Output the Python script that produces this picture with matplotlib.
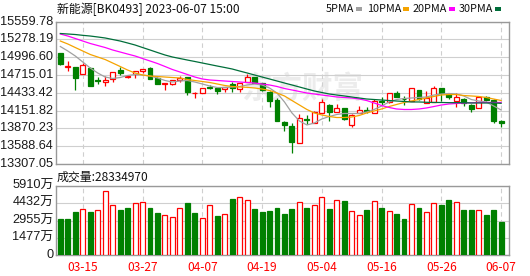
import matplotlib
matplotlib.use('Agg')
import numpy as np
import matplotlib.pyplot as plt
import matplotlib.transforms as mtransforms
from matplotlib.patches import Rectangle

# ---- data ----
date_labels = ['03-15', '03-27', '04-07', '04-19', '05-04', '05-16', '05-26', '06-07']
date_pos = [3, 11, 19, 27, 35, 43, 51, 59]

opens = [15064, 14842, 14847, 14727, 14819, 14629, 14613, 14656, 14795, 14688,
         14732, 14782, 14827, 14672, 14573, 14566, 14637, 14684, 14428, 14436,
         14531, 14515, 14490, 14569, 14490, 14610, 14680, 14585, 14447, 14320,
         13977, 13909, 13644, 14020, 13961, 14110, 14246, 14135, 14189, 13932,
         14110, 14162, 14122, 14300, 14281, 14436, 14341, 14309, 14479, 14276,
         14293, 14506, 14412, 14312, 14331, 14241, 14189, 14360, 14320, 13993]
closes = [14895, 14858, 14676, 14871, 14547, 14618, 14632, 14756, 14751, 14700,
          14775, 14808, 14653, 14577, 14585, 14634, 14676, 14452, 14437, 14506,
          14518, 14467, 14521, 14515, 14585, 14680, 14597, 14478, 14304, 13993,
          13925, 13660, 14031, 14007, 14138, 14285, 14127, 14189, 14015, 14083,
          14162, 14146, 14312, 14284, 14426, 14372, 14331, 14513, 14331, 14347,
          14518, 14426, 14368, 14360, 14273, 14173, 14360, 14328, 13993, 13951]
highs = [15072, 14945, 14850, 14901, 14847, 14680, 14700, 14763, 14839, 14721,
         14784, 14811, 14835, 14680, 14589, 14637, 14700, 14689, 14439, 14510,
         14558, 14521, 14526, 14600, 14589, 14732, 14684, 14597, 14455, 14347,
         13983, 13951, 14099, 14075, 14146, 14336, 14252, 14249, 14194, 14091,
         14233, 14214, 14336, 14368, 14431, 14455, 14384, 14518, 14486, 14463,
         14542, 14510, 14436, 14426, 14344, 14249, 14368, 14384, 14331, 13996]
lows = [14882, 14784, 14475, 14724, 14542, 14581, 14534, 14605, 14716, 14668,
        14676, 14743, 14645, 14566, 14475, 14562, 14610, 14399, 14347, 14431,
        14490, 14415, 14442, 14452, 14452, 14605, 14589, 14463, 14214, 13988,
        13834, 13486, 13639, 13945, 13956, 14107, 13993, 14130, 14003, 13898,
        14107, 14110, 14110, 14241, 14273, 14360, 14241, 14304, 14320, 14268,
        14288, 14297, 14331, 14217, 14225, 14135, 14186, 14312, 13961, 13898]

ma5 = [15167, 15096, 15017, 14922, 14827, 14748, 14684, 14661, 14676, 14708,
       14724, 14716, 14700, 14669, 14629, 14605, 14621, 14629, 14605, 14574,
       14542, 14518, 14518, 14526, 14534, 14558, 14574, 14558, 14510, 14431,
       14289, 14115, 13988, 13925, 13956, 14020, 14059, 14091, 14107, 14107,
       14107, 14130, 14170, 14225, 14289, 14328, 14344, 14352, 14360, 14368,
       14399, 14415, 14423, 14415, 14384, 14328, 14304, 14289, 14225, 14162]
ma10 = [15254, 15207, 15151, 15096, 15041, 15001, 14961, 14906, 14851, 14795,
        14748, 14716, 14700, 14692, 14684, 14676, 14669, 14645, 14629, 14613,
        14597, 14574, 14550, 14534, 14526, 14521, 14510, 14494, 14471, 14431,
        14384, 14312, 14241, 14170, 14115, 14083, 14059, 14043, 14043, 14051,
        14075, 14115, 14146, 14178, 14217, 14249, 14281, 14304, 14328, 14352,
        14376, 14399, 14407, 14407, 14391, 14384, 14376, 14360, 14336, 14312]
ma20 = [15365, 15333, 15294, 15254, 15215, 15183, 15151, 15112, 15080, 15048,
        15017, 14977, 14938, 14898, 14851, 14803, 14764, 14724, 14684, 14653,
        14637, 14629, 14621, 14613, 14605, 14597, 14589, 14574, 14558, 14534,
        14502, 14479, 14455, 14431, 14415, 14399, 14384, 14368, 14360, 14352,
        14336, 14312, 14273, 14233, 14202, 14178, 14170, 14170, 14178, 14194,
        14217, 14241, 14257, 14265, 14273, 14276, 14281, 14281, 14281, 14281]
ma30 = [15373, 15365, 15357, 15344, 15333, 15318, 15302, 15278, 15254, 15223,
        15191, 15151, 15112, 15072, 15033, 15001, 14977, 14953, 14930, 14906,
        14882, 14858, 14835, 14811, 14779, 14748, 14716, 14684, 14653, 14621,
        14589, 14558, 14526, 14494, 14463, 14439, 14415, 14399, 14384, 14368,
        14352, 14336, 14328, 14320, 14312, 14304, 14297, 14289, 14289, 14284,
        14281, 14281, 14278, 14278, 14278, 14273, 14273, 14273, 14273, 14268]

# volume in 万
volume = [3083, 3083, 3683, 3912, 3683, 3826, 5453, 4254, 3854, 4025,
          4425, 4511, 4025, 3597, 3397, 3226, 3997, 4454, 3597, 3140,
          4254, 3340, 3512, 4796, 4939, 4682, 3940, 3710, 3769, 4025,
          3512, 3940, 4511, 4025, 4283, 4939, 3940, 4682, 4625, 3740,
          3397, 3854, 4596, 4025, 3740, 3540, 3083, 4339, 4025, 3654,
          4425, 4311, 4711, 4511, 3854, 3854, 3826, 3454, 3854, 2833]
# 1 = red (up vs previous close), 0 = green
vol_up = [0, 0, 0, 1, 0, 1, 1, 1, 0, 0, 1, 1, 0, 0, 1, 1, 1, 0, 0, 1,
          1, 0, 1, 0, 1, 1, 0, 0, 0, 0, 0, 0, 1, 0, 1, 1, 0, 1, 0, 1,
          1, 0, 1, 0, 1, 0, 0, 1, 0, 1, 1, 0, 0, 1, 0, 0, 1, 0, 0, 0]

price_ticks = [13307.05, 13588.64, 13870.23, 14151.82, 14433.42,
               14715.01, 14996.60, 15278.19, 15559.78]
price_labels = ['13307.05', '13588.64', '13870.23', '14151.82', '14433.42',
                '14715.01', '14996.60', '15278.19', '15559.78']
vol_ticks = [0, 1477.5, 2955, 4432.5, 5910]
vol_labels = ['0', '1477万', '2955万', '4432万', '5910万']

ma_names = ['5PMA', '10PMA', '20PMA', '30PMA']

# ---- style ----
RED = '#ff0000'
GREEN = '#008000'
GRID = '#cfcfcf'
BORDER = '#999999'
ma_colors = ['#a0a0a0', '#f5a300', '#ff00ff', '#006e3a']
CJK = ['Noto Sans CJK SC', 'DejaVu Sans']
NUM = ['Liberation Sans', 'Noto Sans CJK SC']

W, H = 530, 276
def fx(px):
    return px / W
def fy(py):
    return 1 - py / H

fig = plt.figure(figsize=(W / 100, H / 100), dpi=100)
ax = fig.add_axes([fx(56), fy(164), fx(509) - fx(56), fy(21.7) - fy(164)])
axv = fig.add_axes([fx(56), fy(255), fx(509) - fx(56), fy(186) - fy(255)])

n = len(opens)
x = np.arange(n)
bw = 0.66
xlim = (-0.58, 60.05)

for a in (ax, axv):
    a.set_xlim(*xlim)
    for s in a.spines.values():
        s.set_color(BORDER)
        s.set_linewidth(1.0)
    a.set_xticks(date_pos)
    a.grid(axis='x', color=GRID, linestyle=(0, (4, 3)), linewidth=0.8)
    a.grid(axis='y', color=GRID, linestyle='-', linewidth=0.8)
    a.set_axisbelow(True)
    a.tick_params(length=0)

# watermark
ax.text(fx(302), fy(89), '东方财富', transform=fig.transFigure, fontsize=22,
        fontweight='bold', color='#ececec', ha='center', va='center',
        family=CJK, zorder=0.5)

# candles
for i in x:
    up = closes[i] >= opens[i]
    col = RED if up else GREEN
    ax.vlines(i, lows[i], highs[i], color=col, linewidth=0.9, zorder=2)
    lo = min(opens[i], closes[i])
    hgt = max(abs(closes[i] - opens[i]), 8)
    ax.add_patch(Rectangle((i - bw / 2, lo), bw, hgt,
                           facecolor='white' if up else GREEN,
                           edgecolor=col, linewidth=0.9, zorder=3))

for vals, c in zip([ma5, ma10, ma20, ma30], ma_colors):
    ax.plot(x, vals, color=c, linewidth=0.9, zorder=4)

ax.set_ylim(13307.05, 15559.78)
ax.set_yticks(price_ticks)
ax.set_yticklabels([])
ax.set_xticklabels([])
trans = mtransforms.blended_transform_factory(ax.transAxes, ax.transData)
for t, lab in zip(price_ticks, price_labels):
    ax.text(-0.007, t, lab, transform=trans, ha='right', va='center',
            family=NUM, fontsize=9.2, color='#1a1a1a', clip_on=False)

# volume
for i in x:
    if vol_up[i]:
        axv.add_patch(Rectangle((i - bw / 2, 0), bw, volume[i], facecolor='white',
                                edgecolor=RED, linewidth=0.9, zorder=3))
    else:
        axv.add_patch(Rectangle((i - bw / 2, 0), bw, volume[i], facecolor=GREEN,
                                edgecolor=GREEN, linewidth=0.9, zorder=3))
axv.set_ylim(0, 5910)
axv.set_yticks(vol_ticks)
axv.set_yticklabels([])
axv.set_xticklabels(date_labels, family=CJK, fontsize=8.6, color=RED)
axv.tick_params(axis='x', pad=4)

fig.canvas.draw()
for t, lab in zip(vol_ticks, vol_labels):
    disp = axv.transData.transform((0, t))
    fig.text(fx(53.3), disp[1] / H, lab, ha='right', va='center',
             family=NUM, fontsize=9.2, color='#1a1a1a')

# header texts
fig.text(fx(57), fy(9), '新能源[BK0493] 2023-06-07 15:00', family=CJK,
         fontsize=8.6, color='#111111', va='center')
fig.text(fx(57), fy(177), '成交量:28334970', family=CJK,
         fontsize=8.6, color='#111111', va='center')

# legend: name then a small colour block right after it
leg_x = [326, 367, 413, 459]
for name, c, lx in zip(ma_names, ma_colors, leg_x):
    t = fig.text(fx(lx), fy(9), name, family=CJK, fontsize=7.8,
                 color='#111111', va='center')
    fig.canvas.draw()
    bb = t.get_window_extent()
    fig.patches.append(Rectangle((bb.x1 / W + 2 / W, fy(10.5)), 6 / W, 3 / H,
                                 transform=fig.transFigure, facecolor=c,
                                 edgecolor='none'))

fig.savefig('out.png', dpi=100)
